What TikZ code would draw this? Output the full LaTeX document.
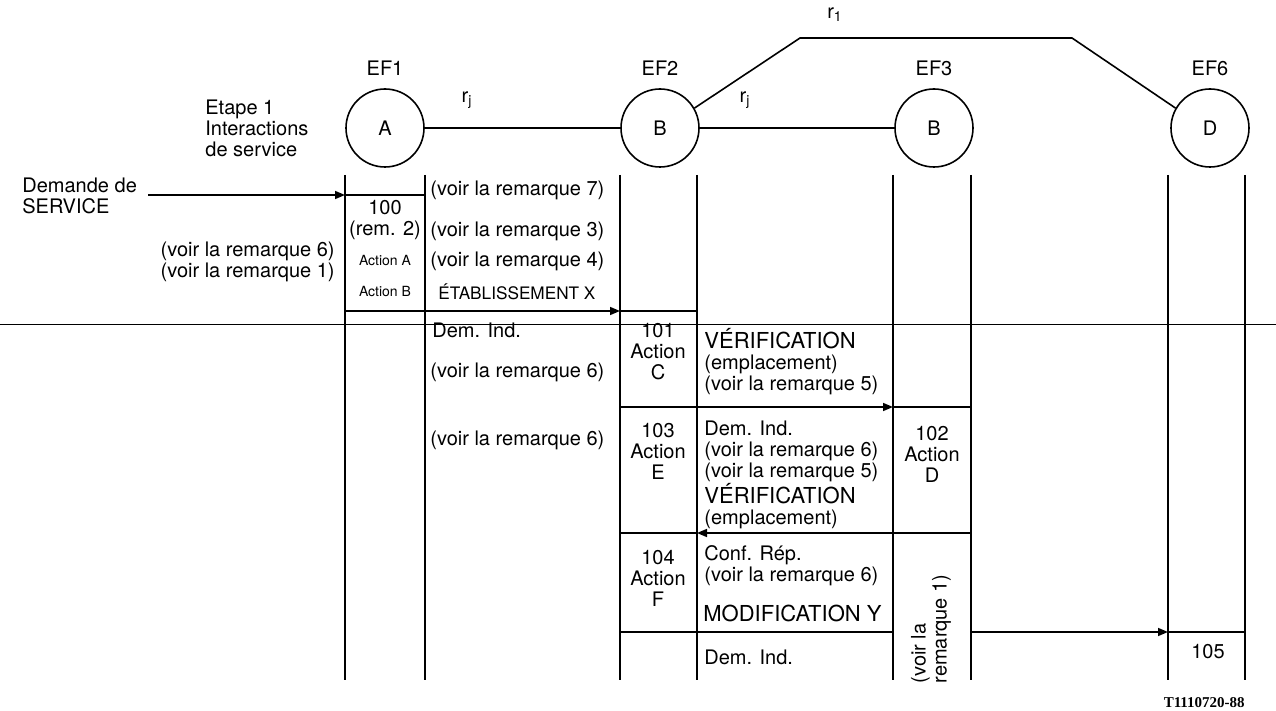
\documentclass[tikz,border=0pt]{standalone}
\usepackage{fontspec}
\setmainfont{TeX Gyre Heros}
\newfontfamily\refserif{Liberation Serif}
\usetikzlibrary{arrows.meta}

\begin{document}
\begin{tikzpicture}[x=0.5pt, y=-0.5pt,
    font=\fontsize{10}{10.5}\selectfont,
    ef/.style={draw, circle, line width=0.8pt, minimum size=39pt, inner sep=0pt},
    col/.style={line width=1pt},
    seg/.style={line width=0.8pt},
    msg/.style={line width=0.8pt, -{Triangle[length=5pt,width=4pt]}},
    txt/.style={anchor=west, align=left, inner sep=0pt},
    cell/.style={align=center, inner sep=0pt},
    small/.style={inner sep=0pt, font=\fontsize{7}{8}\selectfont},
    caps/.style={txt, font=\fontsize{11}{12}\selectfont}]
  \useasboundingbox (0,0) rectangle (1276,711);

  % entites fonctionnelles
  \node[ef] (efA) at (385,128) {A};
  \node[ef] (efB) at (660,128) {B};
  \node[ef] (efC) at (934,128) {B};
  \node[ef] (efD) at (1210,128) {D};
  \node (ef1) at (385,68) {EF1};
  \node (ef2) at (660,68) {EF2};
  \node (ef3) at (934,68) {EF3};
  \node (ef6) at (1210,68) {EF6};

  % relations
  \coordinate (topL) at (800,38);
  \coordinate (topR) at (1072,38);
  \draw[seg] (efA.east) -- (efB.west);
  \draw[seg] (efB.east) -- (efC.west);
  \draw[seg] (efB.30) -- (topL) -- (topR) -- (efD.150);
  \node (rj1) at (467,100) {r\textsubscript{j}};
  \node (rj2) at (745,100) {r\textsubscript{j}};
  \node (r1) at (835,15) {r\textsubscript{1}};
  \node[txt] (etape) at (205,128) {Etape 1\\Interactions\\de service};

  % lignes de vie
  \foreach \n/\x in {a1/345,a2/425,b1/620,b2/697,c1/893,c2/971,d1/1168,d2/1245}{
    \coordinate (\n) at (\x,175);
    \draw[col] (\n) -- (\x,680);
  }

  % flux
  \coordinate (src) at (148,195);
  \draw[msg] (src) -- (a1 |- src);
  \draw[seg] (a1 |- src) -- (a2 |- src);
  \coordinate (row1) at (0,311);
  \draw[seg] (a1 |- row1) -- (a2 |- row1);
  \draw[msg] (a2 |- row1) -- (b1 |- row1);
  \draw[seg] (b1 |- row1) -- (b2 |- row1);
  \coordinate (sepL) at (0,325);
  \coordinate (sepR) at (1276,325);
  \draw[line width=0.5pt] (sepL) -- (sepR);
  \coordinate (row2) at (0,407);
  \draw[seg] (b1 |- row2) -- (b2 |- row2);
  \draw[msg] (b2 |- row2) -- (c1 |- row2);
  \draw[seg] (c1 |- row2) -- (c2 |- row2);
  \coordinate (row3) at (0,533);
  \draw[seg] (b1 |- row3) -- (b2 |- row3);
  \draw[msg] (c2 |- row3) -- (b2 |- row3);
  \coordinate (row4) at (0,632);
  \draw[seg] (b1 |- row4) -- (c1 |- row4);
  \draw[msg] (c2 |- row4) -- (d1 |- row4);
  \draw[seg] (d1 |- row4) -- (d2 |- row4);

  % textes
  \node[txt] (demande) at (22,196) {Demande de\\SERVICE};
  \node[txt] (rem7) at (430,190) {(voir la remarque 7)};
  \node[cell] (n100) at (385,208) {100};
  \node[cell, fill=white] (rem2) at (385,230) {(rem. 2)};
  \node[txt] (rem3) at (430,231) {(voir la remarque 3)};
  \node[txt, anchor=east, align=right] (remG) at (335,262) {(voir la remarque 6)\\(voir la remarque 1)};
  \node[small] (actA) at (385,261) {Action A};
  \node[txt] (rem4) at (430,261) {(voir la remarque 4)};
  \node[small] (actB) at (385,292) {Action B};
  \node[txt, font=\fontsize{8.6}{9}\selectfont] (etab) at (438,292) {ÉTABLISSEMENT X};
  \node[txt] (dem1) at (432,330) {Dem. Ind.};
  \node[txt] (rem6a) at (430,372) {(voir la remarque 6)};
  \node[txt] (rem6b) at (430,440) {(voir la remarque 6)};

  \node[cell] (n101) at (658,352) {101\\Action\\C};
  \node[txt] (verif1) at (704,362) {{\fontsize{11}{12}\selectfont VÉRIFICATION}\\(emplacement)\\(voir la remarque 5)};
  \node[cell] (n103) at (658,451) {103\\Action\\E};
  \node[txt] (dem2) at (704,451) {Dem. Ind.\\(voir la remarque 6)\\(voir la remarque 5)};
  \node[txt] (verif2) at (704,506) {{\fontsize{11}{12}\selectfont VÉRIFICATION}\\(emplacement)};
  \node[cell] (n102) at (932,454) {102\\Action\\D};
  \node[cell] (n104) at (658,578) {104\\Action\\F};
  \node[txt] (conf) at (704,566) {Conf. Rép.\\(voir la remarque 6)};
  \node[caps] (modif) at (703,613) {MODIFICATION Y};
  \node[txt] (dem3) at (704,657) {Dem. Ind.};
  \node[cell, rotate=90, align=left] (rem1) at (931,629) {(voir la\\remarque 1)};
  \node[cell] (n105) at (1208,652) {105};
  \node[anchor=east, inner sep=0pt, font=\refserif\bfseries\fontsize{7.5}{8}\selectfont] (ref) at (1245,703) {T1110720-88};
\end{tikzpicture}
\end{document}
